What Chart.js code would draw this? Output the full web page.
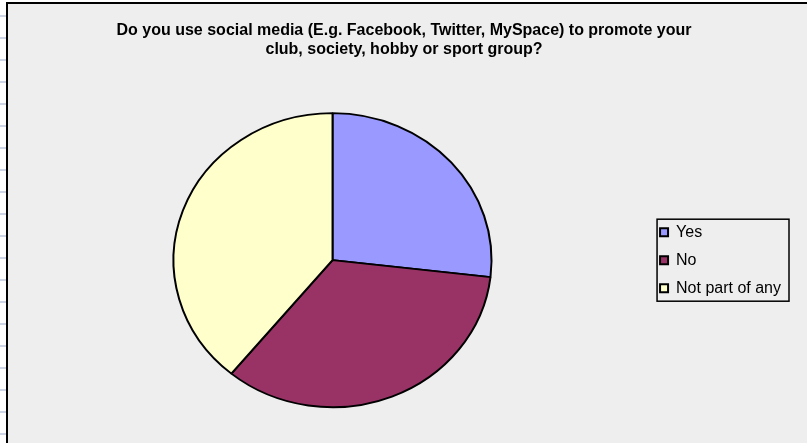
<!DOCTYPE html>
<html>
<head>
<meta charset="utf-8">
<script src="https://cdn.jsdelivr.net/npm/chart.js@4.4.1/dist/chart.umd.min.js"></script>
<style>
  html, body { margin: 0; padding: 0; background: #fff; }
  #wrap { width: 807px; height: 443px; }
</style>
</head>
<body>
<div id="wrap"><canvas id="chart" width="807" height="443"></canvas></div>
<script>
const labels = ['Yes', 'No', 'Not part of any'];
const answers = [11, 14, 16];
const colours = ['#9999FF', '#993366', '#FFFFCC'];
const titleLines = [
    'Do you use social media (E.g. Facebook, Twitter, MySpace) to promote your',
    'club, society, hobby or sport group?'
];

// sheet background, grey chart panel with black edge
const panel = {
    id: 'panel',
    beforeDraw(chart) {
        const c = chart.ctx;
        c.save();
        c.fillStyle = '#fff';
        c.fillRect(0, 0, chart.width, chart.height);
        c.fillStyle = '#CDD4E4';
        for (let y = 15; y < chart.height; y += 22) c.fillRect(0, y, 6, 2);
        c.fillStyle = '#EEEEEE';
        c.fillRect(7, 3, chart.width - 7, chart.height - 3);
        c.fillStyle = '#000';
        c.fillRect(6, 2, chart.width - 6, 2);
        c.fillRect(6, 2, 2, chart.height - 2);
        c.restore();
    }
};

// the original pie is a bit squashed vertically
const squash = {
    id: 'squash',
    beforeDatasetsDraw(chart) {
        const arc = chart.getDatasetMeta(0).data[0];
        const c = chart.ctx;
        c.save();
        c.translate(arc.x, arc.y);
        c.scale(1, 147 / 159);
        c.translate(-arc.x, -arc.y);
    },
    afterDatasetsDraw(chart) {
        chart.ctx.restore();
    }
};

// box round the legend
const legendBox = {
    id: 'legendBox',
    afterDraw(chart) {
        const boxes = chart.legend.legendHitBoxes;
        if (!boxes || !boxes.length) return;
        let l = Infinity, t = Infinity, r = -Infinity, b = -Infinity;
        boxes.forEach(h => {
            l = Math.min(l, h.left); t = Math.min(t, h.top);
            r = Math.max(r, h.left + h.width); b = Math.max(b, h.top + h.height);
        });
        const c = chart.ctx;
        c.save();
        c.strokeStyle = '#000';
        c.lineWidth = 1.5;
        c.strokeRect(l - 3, t - 5, r - l + 11, b - t + 10);
        c.restore();
    }
};

new Chart(document.getElementById('chart'), {
    type: 'pie',
    data: {
        labels: labels,
        datasets: [{
            data: answers,
            backgroundColor: colours,
            borderColor: '#000',
            borderWidth: 2,
            radius: 159
        }]
    },
    options: {
        responsive: false,
        animation: false,
        layout: { padding: { left: 17, right: 16, top: 0, bottom: 24 } },
        plugins: {
            title: {
                display: true,
                text: titleLines,
                color: '#000',
                font: { family: '"Liberation Sans", Arial, sans-serif', size: 16, weight: 'bold', lineHeight: 1.2 },
                padding: { top: 21, bottom: 42 }
            },
            legend: {
                position: 'right',
                fullSize: false,
                labels: {
                    color: '#000',
                    boxWidth: 8,
                    boxHeight: 8,
                    padding: 12,
                    font: { family: '"Liberation Sans", Arial, sans-serif', size: 16 }
                }
            },
            tooltip: { enabled: false }
        }
    },
    plugins: [panel, squash, legendBox]
});
</script>
</body>
</html>
